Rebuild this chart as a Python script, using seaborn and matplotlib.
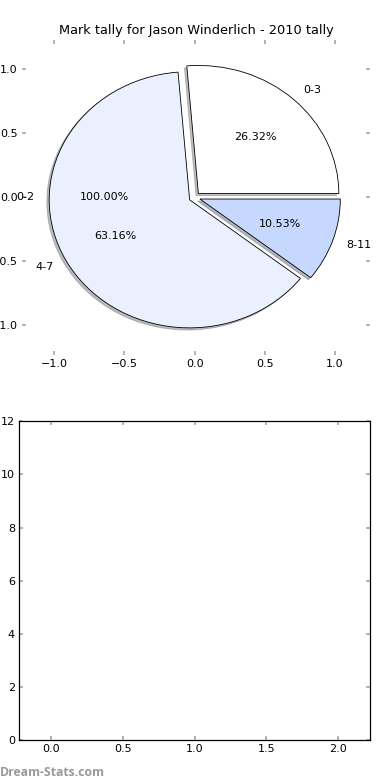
import matplotlib
matplotlib.use("Agg")
import matplotlib.pyplot as plt
import seaborn as sns

# 데이터
labels = ["0-3", "4-7", "8-11"]
counts = [5, 12, 2]
colors = ["#ffffff", "#eaf0fd", "#c6d8fd"]
explode = [0.04, 0.04, 0.04]
extra_label = ["0-2"]
extra_count = [1]
extra_explode = [0.04]
pie_ticks = [-1.0, -0.5, 0.0, 0.5, 1.0]
bar_xticks = [0.0, 0.5, 1.0, 1.5, 2.0]
bar_yticks = [0, 2, 4, 6, 8, 10, 12]

sns.set_theme(style="white")
plt.rcParams["font.family"] = ["DejaVu Sans"]
plt.rcParams["font.size"] = 8
plt.rcParams["text.color"] = "black"
plt.rcParams["xtick.labelcolor"] = "black"
plt.rcParams["ytick.labelcolor"] = "black"

fig = plt.figure(figsize=(3.9, 7.8), dpi=100)

# ── 위: 파이 차트 ─────────────────────────────
ax1 = fig.add_axes([0.056, 0.545, 0.893, 0.404])
ax1.pie(counts, labels=labels, colors=colors, explode=explode,
        autopct="%1.2f%%", startangle=0, frame=True,
        shadow={"ox": -0.012, "oy": -0.012, "shade": 0.5},
        wedgeprops={"edgecolor": "black", "linewidth": 0.6},
        textprops={"fontsize": 8, "color": "black"})
ax1.pie(extra_count, labels=extra_label, autopct="%1.2f%%", frame=True,
        explode=extra_explode, wedgeprops={"visible": False},
        textprops={"fontsize": 8, "color": "black"})
ax1.set_aspect("auto")
ax1.set_xlim(-1.23, 1.25)
ax1.set_ylim(-1.23, 1.23)
ax1.set_xticks(pie_ticks)
ax1.set_yticks(pie_ticks)
for s in ax1.spines.values():
    s.set_visible(False)
ax1.tick_params(direction="in", length=3, color="#aaaaaa", labelsize=8,
                top=True, right=True, left=True, bottom=True, pad=3)
ax1.set_title("Mark tally for Jason Winderlich - 2010 tally", fontsize=9.3,
              pad=4, color="black")

# ── 아래: 빈 막대 축 ─────────────────────────────
ax2 = fig.add_axes([0.049, 0.051, 0.900, 0.409])
ax2.set_xlim(-0.225, 2.225)
ax2.set_ylim(0, 12)
ax2.set_xticks(bar_xticks)
ax2.set_yticks(bar_yticks)
for s in ax2.spines.values():
    s.set_visible(True)
    s.set_color("black")
    s.set_linewidth(0.9)
ax2.tick_params(direction="in", length=3, color="#aaaaaa", labelsize=8,
                top=True, right=True, left=True, bottom=True, pad=3)

fig.text(0.0, 0.005, "Dream-Stats.com", color="#999999", fontsize=8.8,
         family=["Open Sans", "DejaVu Sans"], fontweight="bold")

plt.savefig("out.png", dpi=100)
plt.close()
